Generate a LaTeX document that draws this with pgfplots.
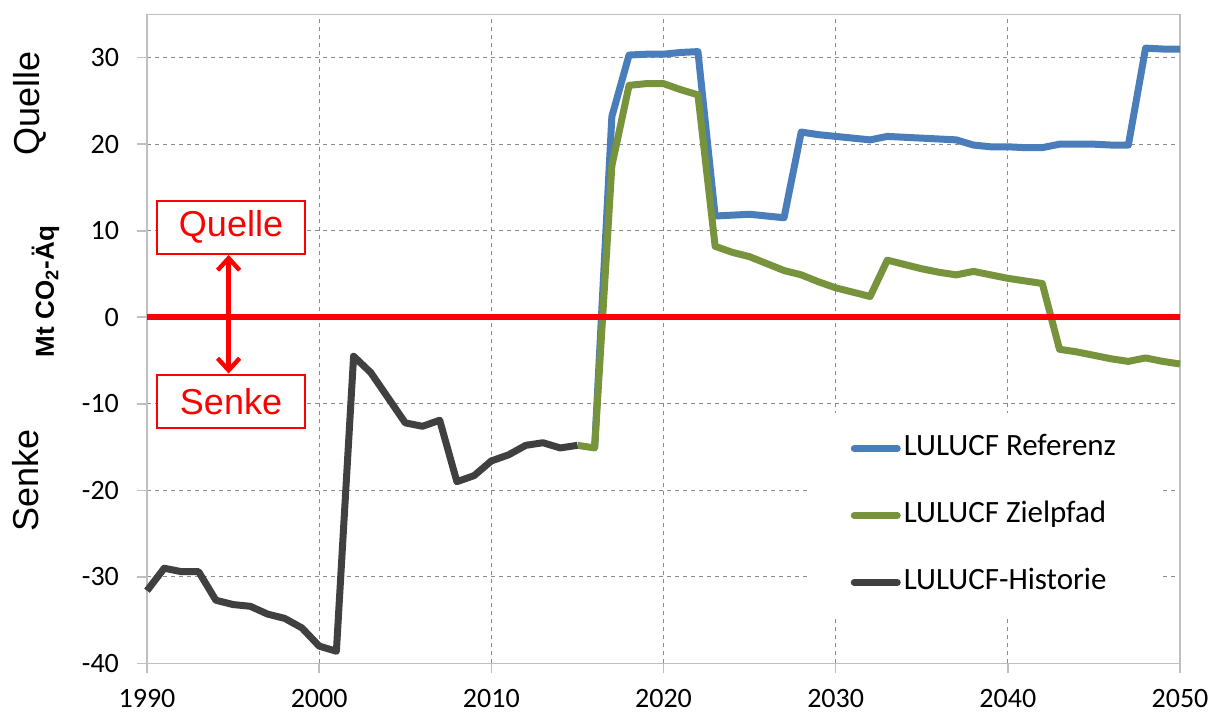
\documentclass[border=0pt]{standalone}
\usepackage{fontspec}
\setmainfont{Carlito}
\newfontfamily\arial{Liberation Sans}
\usepackage{pgfplots}
\pgfplotsset{compat=1.18}
\usetikzlibrary{arrows.meta}
\definecolor{refblue}{HTML}{4A7EBB}
\definecolor{zielgreen}{HTML}{77933C}
\definecolor{histgray}{HTML}{404040}
\definecolor{gridgray}{HTML}{8C8C8C}
\definecolor{framegray}{HTML}{BFBFBF}

\begin{document}
\begin{tikzpicture}
\begin{axis}[
    scale only axis,
    width=516.5pt, height=324.5pt,
    xmin=1990, xmax=2050,
    ymin=-40, ymax=35,
    xtick={1990,2000,2010,2020,2030,2040,2050},
    xticklabels={1990,2000,2010,2020,2030,2040,2050},
    ytick={-40,-30,-20,-10,0,10,20,30},
    yticklabels={-40,-30,-20,-10,0,10,20,30},
    tick label style={font=\fontsize{14}{16}\selectfont},
    xticklabel style={yshift=-4.5pt},
    yticklabel style={xshift=-5.5pt},
    xtick pos=left, ytick pos=left,
    tick align=outside,
    major tick length=5pt,
    tick style={framegray, line width=0.8pt},
    axis line style={framegray, line width=0.8pt},
    xmajorgrids, ymajorgrids,
    major grid style={gridgray, dash pattern=on 2pt off 2pt, line width=0.6pt},
    clip=false,
    legend style={at={(axis cs:2028.5,-22.9)}, anchor=west,
        draw=none, fill=white, inner xsep=20.25pt, inner ysep=9pt,
        row sep=16pt, column sep=0pt,
        font=\fontsize{15.5}{18}\selectfont,
        nodes={inner sep=1.5pt, text height=11pt, text depth=3.5pt}},
    legend cell align=left,
    legend image code/.code={\draw[#1, line cap=round] (0pt,0pt) -- (21.5pt,0pt);},
]

\addplot[refblue, line width=3.5pt, line join=round] coordinates {
(2016,-15.1)(2017,23.2)(2018,30.3)(2019,30.4)(2020,30.4)(2021,30.6)(2022,30.7)
(2023,11.7)(2024,11.8)(2025,11.9)(2026,11.7)(2027,11.5)(2028,21.4)(2029,21.1)
(2030,20.9)(2031,20.7)(2032,20.5)(2033,20.9)(2034,20.8)(2035,20.7)(2036,20.6)
(2037,20.5)(2038,19.9)(2039,19.7)(2040,19.7)(2041,19.6)(2042,19.6)(2043,20.0)
(2044,20.0)(2045,20.0)(2046,19.9)(2047,19.9)(2048,31.1)(2049,31.0)(2050,31.0)
};
\addlegendentry{LULUCF Referenz}

\addplot[zielgreen, line width=3.5pt, line join=round] coordinates {
(2015,-14.8)(2016,-15.1)(2017,17.5)(2018,26.8)(2019,27.0)(2020,27.0)(2021,26.3)
(2022,25.7)(2023,8.2)(2024,7.5)(2025,7.0)(2026,6.2)(2027,5.4)(2028,4.9)
(2029,4.1)(2030,3.4)(2031,2.9)(2032,2.4)(2033,6.6)(2034,6.1)(2035,5.6)
(2036,5.2)(2037,4.9)(2038,5.3)(2039,4.9)(2040,4.5)(2041,4.2)(2042,3.9)
(2043,-3.7)(2044,-4.0)(2045,-4.4)(2046,-4.8)(2047,-5.1)(2048,-4.7)(2049,-5.1)(2050,-5.4)
};
\addlegendentry{LULUCF Zielpfad}

\addplot[histgray, line width=3.5pt, line join=round] coordinates {
(1990,-31.6)(1991,-29.0)(1992,-29.4)(1993,-29.4)(1994,-32.7)(1995,-33.2)
(1996,-33.4)(1997,-34.3)(1998,-34.8)(1999,-35.9)(2000,-38.0)(2001,-38.6)
(2002,-4.5)(2003,-6.4)(2004,-9.3)(2005,-12.2)(2006,-12.6)(2007,-11.9)
(2008,-19.0)(2009,-18.3)(2010,-16.6)(2011,-15.9)(2012,-14.8)(2013,-14.5)
(2014,-15.1)(2015,-14.8)
};
\addlegendentry{LULUCF-Historie}

\addplot[red, line width=3pt, forget plot] coordinates {(1990,0)(2050,0)};

% Quelle / Senke annotation
\draw[red, line width=2.2pt, {Straight Barb[length=6pt,width=11pt]}-{Straight Barb[length=6pt,width=11pt]}]
    (axis cs:1994.74,7.2) -- (axis cs:1994.74,-6.5);
\node[draw=red, line width=1pt, fill=white, text=red, minimum width=74pt, minimum height=26.5pt,
    inner sep=0pt, font=\arial\fontsize{18}{20}\selectfont] at (axis cs:1994.88,10.4) {Quelle};
\node[draw=red, line width=1pt, fill=white, text=red, minimum width=74pt, minimum height=26.5pt,
    inner sep=0pt, font=\arial\fontsize{18}{20}\selectfont] at (axis cs:1994.88,-9.72) {Senke};

% side labels
\node[rotate=90, font=\arial\fontsize{18}{20}\selectfont] at (rel axis cs:-0.1133,0.8633) {Quelle};
\node[rotate=90, font=\arial\fontsize{18}{20}\selectfont] at (rel axis cs:-0.1171,0.2812) {Senke};
\node[rotate=90, font=\arial\bfseries\fontsize{13}{15}\selectfont] at (rel axis cs:-0.0983,0.573) {Mt CO\textsubscript{2}-Äq};
\end{axis}
\pgfresetboundingbox
\useasboundingbox ([shift={(-73.5pt,-25.8pt)}]current axis.south west) rectangle ([shift={(19.5pt,7.2pt)}]current axis.north east);
\end{tikzpicture}
\end{document}
